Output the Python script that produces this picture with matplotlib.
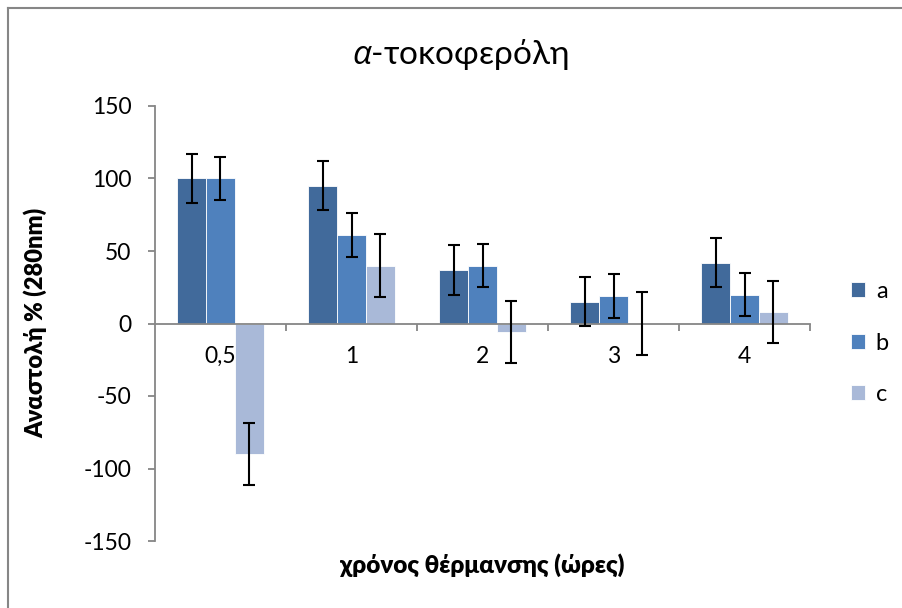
import matplotlib
matplotlib.use("Agg")
import matplotlib.pyplot as plt
from matplotlib.lines import Line2D
import numpy as np

plt.rcParams['font.family'] = ['Lato', 'Open Sans', 'DejaVu Sans']
plt.rcParams['mathtext.fontset'] = 'custom'
plt.rcParams['mathtext.it'] = 'Open Sans:italic'
plt.rcParams['mathtext.rm'] = 'Open Sans'

# heating time categories
categories = ['0,5', '1', '2', '3', '4']
series_names = ['a', 'b', 'c']

# inhibition % (280 nm) per series
values_a = [100, 95, 37, 15, 42]
values_b = [100, 61, 40, 19, 20]
values_c = [-90, 40, -6, 0, 8]

# error bar half-lengths
err_a = [17, 17, 17, 17, 17]
err_b = [15, 15, 15, 15, 15]
err_c = [21.5, 21.5, 21.5, 21.5, 21.5]

colors = ['#416a9b', '#4f81bd', '#a9b9d8']
grey = '#868686'

W, H = 903, 608
fig = plt.figure(figsize=(W / 100, H / 100), dpi=100)
ax = fig.add_axes([155 / W, 1 - 541 / H, (810 - 155) / W, (541 - 106) / H])

x = np.arange(len(categories))
bw = 0.22
for i, (vals, errs, col, name) in enumerate(zip(
        [values_a, values_b, values_c], [err_a, err_b, err_c], colors, series_names)):
    ax.bar(x + (i - 1) * bw, vals, width=bw, color=col, edgecolor='white',
           linewidth=0.6, label=name, zorder=2)
    ax.errorbar(x + (i - 1) * bw, vals, yerr=errs, fmt='none', ecolor='black',
                elinewidth=1.5, capsize=4.5, capthick=1.5, zorder=3)

ax.set_xlim(-0.5, len(categories) - 0.5)
ax.set_ylim(-150, 150)
ax.set_yticks(np.arange(-150, 151, 50))
ax.set_yticklabels([str(v) for v in np.arange(-150, 151, 50)])

ax.spines['top'].set_visible(False)
ax.spines['right'].set_visible(False)
ax.spines['bottom'].set_position(('data', 0))
for s in ('left', 'bottom'):
    ax.spines[s].set_color(grey)
    ax.spines[s].set_linewidth(1.3)

ax.set_xticks(x)
ax.set_xticklabels(categories)
ax.set_xticks(np.arange(0.5, len(categories), 1.0), minor=True)
ax.tick_params(axis='x', which='major', length=0, pad=16, labelsize=16.5)
ax.tick_params(axis='x', which='minor', length=5, width=1.3, color=grey, direction='out')
ax.tick_params(axis='y', length=5, width=1.3, color=grey, direction='out', pad=12, labelsize=16.5)

fig.text(460 / W, 1 - 54 / H, r'$\mathit{α}$-τοκοφερόλη', ha='center', va='center', fontsize=24)
fig.text(482 / W, 1 - 565 / H, 'χρόνος θέρμανσης (ώρες)', ha='center', va='center',
         fontsize=17.5, fontweight='heavy')
fig.text(35 / W, 1 - 323 / H, 'Αναστολή % (280nm)', ha='center', va='center',
         fontsize=17, fontweight='heavy', rotation=90)

ax.legend(loc='center left', bbox_to_anchor=(851 / W, 1 - 343 / H),
          bbox_transform=fig.transFigure, frameon=False, fontsize=17,
          handlelength=0.6, handleheight=0.6, handletextpad=0.45, labelspacing=1.3,
          borderaxespad=0, borderpad=0)

# outer chart frame (left and top edges)
fig.add_artist(Line2D([7.5 / W, 7.5 / W], [0, 1 - 7.5 / H], transform=fig.transFigure,
                      color=grey, linewidth=1.5))
fig.add_artist(Line2D([7.5 / W, 1], [1 - 7.5 / H, 1 - 7.5 / H], transform=fig.transFigure,
                      color=grey, linewidth=1.5))

fig.savefig('out.png', dpi=100)
